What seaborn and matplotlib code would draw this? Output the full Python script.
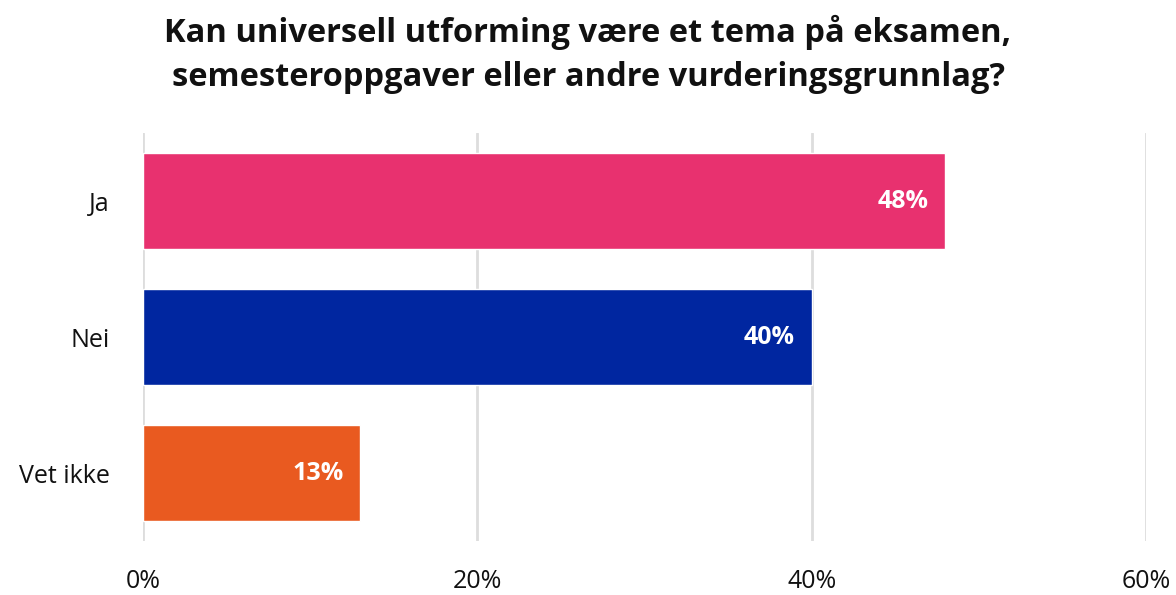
import matplotlib
matplotlib.use("Agg")
import matplotlib.pyplot as plt
import seaborn as sns
import pandas as pd

kategorier = ["Ja", "Nei", "Vet ikke"]
andel = [48, 40, 13]
farger = ["#E8316F", "#0026A0", "#E95A20"]
x_ticks = [0, 20, 40, 60]
tittel = "Kan universell utforming være et tema på eksamen,\nsemesteroppgaver eller andre vurderingsgrunnlag?"

sns.set_style("white")
plt.rcParams["font.family"] = ["Open Sans", "DejaVu Sans"]

df = pd.DataFrame({"Svar": kategorier, "Andel": andel})

fig = plt.figure(figsize=(11.76, 5.95), dpi=100)
ax = fig.add_axes([143 / 1176, 1 - 541 / 595, (1146 - 143) / 1176, (541 - 133) / 595])

sns.barplot(data=df, x="Andel", y="Svar", hue="Svar", palette=farger,
            legend=False, width=0.706, saturation=1, ax=ax, zorder=3)

ax.set_xlim(0, 60)
ax.set_ylim(2.5, -0.5)
ax.set_xticks(x_ticks)
ax.set_xticklabels([f"{t}%" for t in x_ticks])
ax.grid(axis="x", color="#DDDDDD", linewidth=2, zorder=0)
ax.grid(axis="y", visible=False)
for s in ax.spines.values():
    s.set_visible(False)
ax.tick_params(axis="x", length=0, pad=20, labelsize=18, colors="#111111")
ax.tick_params(axis="y", length=0, pad=24, labelsize=18, colors="#111111")
ax.set_xlabel("")
ax.set_ylabel("")

for i, v in enumerate(andel):
    ax.annotate(f"{v}%", xy=(v, i), xytext=(-12, 0), textcoords="offset points",
                ha="right", va="center", color="white", fontsize=18,
                fontweight="bold", zorder=4)

fig.text(0.5, 0.975, tittel, ha="center", va="top", fontsize=23.5,
         fontweight="bold", color="#111111", linespacing=1.45)

fig.savefig("out.png", dpi=100)
